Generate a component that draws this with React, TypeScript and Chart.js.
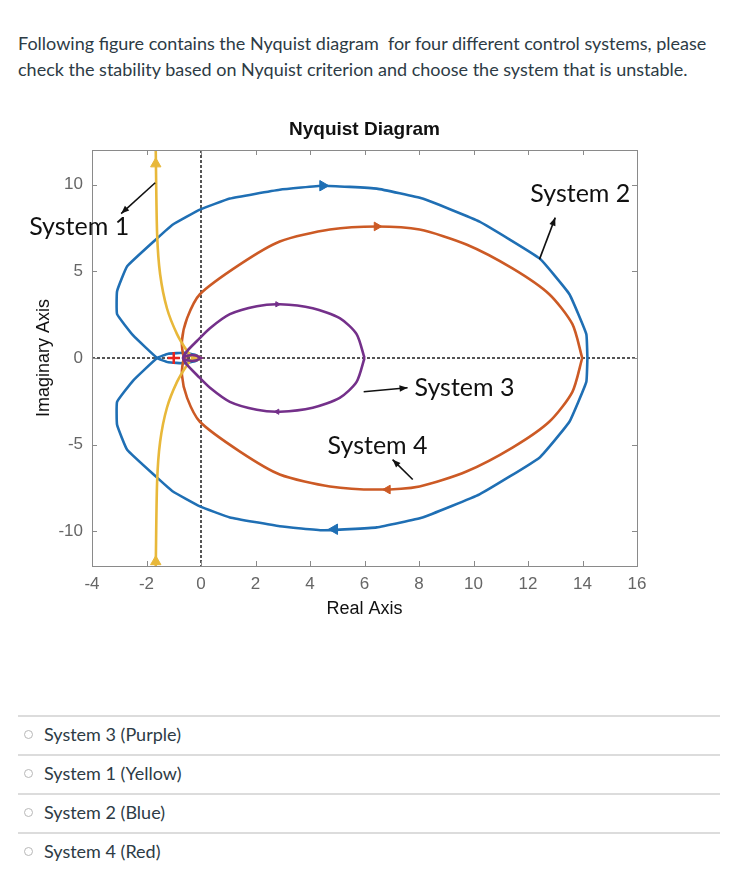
import React, { useEffect, useRef } from "react";
import { Chart, registerables } from "chart.js";

Chart.register(...registerables);

const questionLines = [
  "Following figure contains the Nyquist diagram  for four different control systems, please",
  "check the stability based on Nyquist criterion and choose the system that is unstable.",
];
const answerOptions = ["System 3 (Purple)", "System 1 (Yellow)", "System 2 (Blue)", "System 4 (Red)"];

const chartTitle = "Nyquist Diagram";
const xAxisTitle = "Real Axis";
const yAxisTitle = "Imaginary Axis";
const xTicks = [-4, -2, 0, 2, 4, 6, 8, 10, 12, 14, 16];
const yTicks = [-10, -5, 0, 5, 10];

// Upper (positive imaginary) branches; lower branch is the conjugate.
const blueRe = [14.18, 14.14, 13.52, 12.42, 10.22, 8.13, 6.45, 4.47, 2.89, 1.06, -0.04, -1.03, -1.61, -2.71, -3.08, -3.08, -2.49, -1.61, -1.2, -0.6, -0.2, 0];
const blueIm = [0, 1.38, 3.68, 5.75, 7.87, 9.2, 9.77, 9.94, 9.71, 9.2, 8.56, 7.7, 6.9, 5.29, 3.85, 2.53, 1.3, 0, -0.25, -0.3, -0.18, 0];

const orangeRe = [13.99, 13.63, 12.78, 11.43, 9.74, 8.02, 6.45, 4.73, 2.89, 1.43, -0.04, -0.51, -0.7, -0.62, -0.4, -0.15, 0];
const orangeIm = [0, 1.95, 3.68, 5.17, 6.55, 7.41, 7.59, 7.41, 6.72, 5.4, 3.68, 2.3, 0.98, 0, -0.15, -0.12, 0];

const purpleRe = [6.0, 5.71, 5.09, 4.1, 2.89, 2.05, 1.06, 0.33, -0.15, -0.51, -0.66, -0.45, -0.2, 0];
const purpleIm = [0, 1.38, 2.3, 2.87, 3.1, 2.99, 2.53, 1.72, 0.98, 0.4, 0, -0.15, -0.15, 0];

const yellowRe = [-1.68, -1.66, -1.61, -1.5, -1.25, -0.88, -0.51, -0.29, -0.1, 0];
const yellowIm = [14, 11.9, 7.13, 4.83, 2.87, 1.38, 0.4, 0, -0.1, 0];

// direction markers: [re, im, rotation]
const blueArrows = [[4.47, 9.94, 90], [4.9, -9.88, 270]];
const orangeArrows = [[6.45, 7.59, 90], [6.85, -7.59, 270]];
const purpleArrows = [[2.8, 3.1, 90], [2.8, -3.1, 270]];
const yellowArrows = [[-1.66, 11.2, 0], [-1.66, -11.75, 0]];
const criticalPoint = [[-1, 0]];

const BLUE = "#1f6fb4";
const ORANGE = "#cc5a25";
const YELLOW = "#e8b83a";
const PURPLE = "#74308a";

const AXIS_FONT = "'Liberation Sans', Arial, sans-serif";

function closedPath(re: number[], im: number[]) {
  const upper = re.map((x, i) => ({ x, y: im[i] }));
  const lower = re.map((x, i) => ({ x, y: -im[i] })).reverse();
  return upper.concat(lower);
}

function curve(label: string, re: number[], im: number[], color: string, tension: number) {
  return {
    label,
    data: closedPath(re, im),
    showLine: true,
    borderColor: color,
    backgroundColor: color,
    borderWidth: 2.6,
    pointRadius: 0,
    tension,
    fill: false,
  };
}

function arrowSet(label: string, pts: number[][], color: string, radius: number) {
  return {
    label,
    data: pts.map((p) => ({ x: p[0], y: p[1] })),
    showLine: false,
    pointStyle: "triangle",
    rotation: pts.map((p) => p[2]),
    pointRadius: radius,
    borderColor: color,
    backgroundColor: color,
    borderWidth: 1,
  };
}

const annotations = [
  { text: "System 1", x: -4.47, y: 7.55, from: [-1.68, 10.11], to: [-2.93, 8.33] },
  { text: "System 2", x: 13.92, y: 9.45, from: [12.42, 5.69], to: [13.0, 8.1] },
  { text: "System 3", x: 9.67, y: -1.72, from: [5.97, -1.95], to: [7.58, -1.72] },
  { text: "System 4", x: 6.48, y: -5.06, from: [7.77, -7.01], to: [7.03, -5.86] },
];

const framePlugin = {
  id: "matlabFrame",
  beforeDatasetsDraw(chart: any) {
    const { ctx, chartArea: a, scales } = chart;
    const x0 = scales.x.getPixelForValue(0);
    const y0 = scales.y.getPixelForValue(0);
    ctx.save();
    ctx.strokeStyle = "#555";
    ctx.lineWidth = 2;
    ctx.setLineDash([3, 2]);
    ctx.beginPath();
    ctx.moveTo(a.left, y0);
    ctx.lineTo(a.right, y0);
    ctx.moveTo(x0, a.top);
    ctx.lineTo(x0, a.bottom);
    ctx.stroke();
    ctx.restore();
  },
  afterDraw(chart: any) {
    const { ctx, chartArea: a, scales } = chart;
    ctx.save();
    // title, centred over the plot box
    ctx.fillStyle = "#111";
    ctx.font = "bold 19px " + AXIS_FONT;
    ctx.textAlign = "center";
    ctx.textBaseline = "middle";
    ctx.fillText(chartTitle, (a.left + a.right) / 2, a.top - 20);

    ctx.strokeStyle = "#8a8a8a";
    ctx.lineWidth = 1;
    ctx.strokeRect(Math.round(a.left) + 0.5, Math.round(a.top) + 0.5, Math.round(a.right - a.left), Math.round(a.bottom - a.top));
    ctx.beginPath();
    const tl = 5;
    xTicks.forEach((v) => {
      const px = Math.round(scales.x.getPixelForValue(v)) + 0.5;
      ctx.moveTo(px, a.bottom);
      ctx.lineTo(px, a.bottom - tl);
      ctx.moveTo(px, a.top);
      ctx.lineTo(px, a.top + tl);
    });
    yTicks.forEach((v) => {
      const py = Math.round(scales.y.getPixelForValue(v)) + 0.5;
      ctx.moveTo(a.left, py);
      ctx.lineTo(a.left + tl, py);
      ctx.moveTo(a.right, py);
      ctx.lineTo(a.right - tl, py);
    });
    ctx.stroke();

    // annotations
    ctx.fillStyle = "#111";
    ctx.strokeStyle = "#111";
    ctx.font = "25px Lato, 'Open Sans', sans-serif";
    ctx.textAlign = "center";
    ctx.textBaseline = "middle";
    annotations.forEach((an) => {
      ctx.fillText(an.text, scales.x.getPixelForValue(an.x), scales.y.getPixelForValue(an.y));
      const fx = scales.x.getPixelForValue(an.from[0]);
      const fy = scales.y.getPixelForValue(an.from[1]);
      const tx = scales.x.getPixelForValue(an.to[0]);
      const ty = scales.y.getPixelForValue(an.to[1]);
      ctx.lineWidth = 1.6;
      ctx.beginPath();
      ctx.moveTo(fx, fy);
      ctx.lineTo(tx, ty);
      ctx.stroke();
      const ang = Math.atan2(ty - fy, tx - fx);
      const hl = 8;
      const hw = 3.2;
      ctx.beginPath();
      ctx.moveTo(tx, ty);
      ctx.lineTo(tx - hl * Math.cos(ang) + hw * Math.sin(ang), ty - hl * Math.sin(ang) - hw * Math.cos(ang));
      ctx.lineTo(tx - hl * Math.cos(ang) - hw * Math.sin(ang), ty - hl * Math.sin(ang) + hw * Math.cos(ang));
      ctx.closePath();
      ctx.fill();
    });
    ctx.restore();
  },
};

function NyquistChart() {
  const ref = useRef<HTMLCanvasElement | null>(null);
  useEffect(() => {
    if (!ref.current) return;
    const chart = new Chart(ref.current, {
      type: "scatter",
      data: {
        datasets: [
          arrowSet("purple arrows", purpleArrows, PURPLE, 3) as any,
          arrowSet("yellow arrows", yellowArrows, YELLOW, 6) as any,
          arrowSet("orange arrows", orangeArrows, ORANGE, 5) as any,
          arrowSet("blue arrows", blueArrows, BLUE, 6) as any,
          {
            label: "-1",
            data: criticalPoint.map((p) => ({ x: p[0], y: p[1] })),
            pointStyle: "cross",
            pointRadius: 6,
            borderColor: "#e8231c",
            borderWidth: 2.5,
            showLine: false,
          } as any,
          curve("System 3", purpleRe, purpleIm, PURPLE, 0.25) as any,
          curve("System 1", yellowRe, yellowIm, YELLOW, 0.25) as any,
          curve("System 4", orangeRe, orangeIm, ORANGE, 0.25) as any,
          curve("System 2", blueRe, blueIm, BLUE, 0.1) as any,
        ],
      },
      options: {
        responsive: false,
        animation: false,
        devicePixelRatio: 1,
        layout: { padding: { left: 0, right: 85, top: 42, bottom: 0 } },
        plugins: {
          legend: { display: false },
          tooltip: { enabled: false },
          title: { display: false },
        },
        scales: {
          x: {
            type: "linear",
            min: -4,
            max: 16,
            grid: { display: false, drawTicks: false },
            border: { display: false },
            afterBuildTicks: (s: any) => {
              s.ticks = xTicks.map((v) => ({ value: v }));
            },
            afterFit: (s: any) => {
              s.height = 62;
            },
            ticks: {
              color: "#666",
              padding: 8.5,
              font: { family: AXIS_FONT, size: 17 },
              callback: (v: any) => String(v),
            },
            title: {
              display: true,
              text: xAxisTitle,
              color: "#111",
              font: { family: AXIS_FONT, size: 18 },
              padding: { top: 0, bottom: 8.5 },
            },
          },
          y: {
            type: "linear",
            min: -12,
            max: 12,
            grid: { display: false, drawTicks: false },
            border: { display: false },
            afterBuildTicks: (s: any) => {
              s.ticks = yTicks.map((v) => ({ value: v }));
            },
            afterFit: (s: any) => {
              s.width = 84;
            },
            ticks: {
              color: "#666",
              padding: 9,
              font: { family: AXIS_FONT, size: 17 },
              callback: (v: any) => String(v),
            },
            title: {
              display: true,
              text: yAxisTitle,
              color: "#111",
              font: { family: AXIS_FONT, size: 18 },
              padding: { top: 25, bottom: 0 },
            },
          },
        },
      } as any,
      plugins: [framePlugin],
    });
    return () => chart.destroy();
  }, []);
  return <canvas ref={ref} width={714} height={520} style={{ width: 714, height: 520, display: "block" }} />;
}

export default function App() {
  const textColor = "#2d3b45";
  const font = "Lato, 'Open Sans', sans-serif";
  return (
    <div style={{ position: "relative", width: 714, height: 868, fontFamily: font, color: textColor }}>
      <div style={{ position: "absolute", left: 10, top: 22, fontSize: 18, lineHeight: "26px", whiteSpace: "pre" }}>
        {questionLines.map((l, i) => (
          <div key={i}>{l}</div>
        ))}
      </div>
      <div style={{ position: "absolute", left: 0, top: 100 }}>
        <NyquistChart />
      </div>
      {answerOptions.map((opt, i) => (
        <div key={opt}>
          <div
            style={{ position: "absolute", left: 10, width: 702, top: 707 + 39 * i, height: 2, background: "#dcdcdc" }}
          />
          <div
            style={{
              position: "absolute",
              left: 16,
              top: 726 + 39 * i - 4.5,
              width: 7,
              height: 7,
              borderRadius: "50%",
              border: "1px solid #b8b8b8",
            }}
          />
          <div style={{ position: "absolute", left: 36, top: 726 + 39 * i - 13, fontSize: 18, lineHeight: "26px" }}>{opt}</div>
        </div>
      ))}
    </div>
  );
}
